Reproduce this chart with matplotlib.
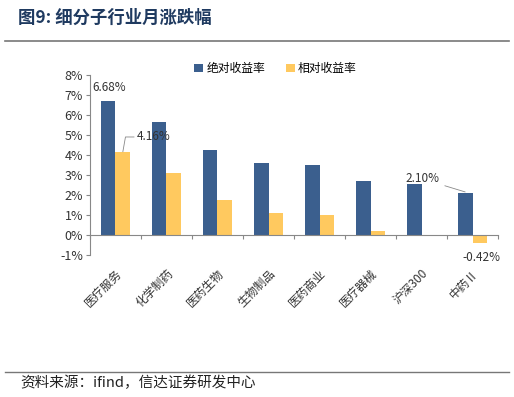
import numpy as np
import matplotlib.pyplot as plt

plt.rcParams['font.family'] = ['Noto Sans CJK SC', 'DejaVu Sans']

categories = ['医疗服务', '化学制药', '医药生物', '生物制品', '医药商业', '医疗器械', '沪深300', '中药Ⅱ']
absolute = [6.68, 5.65, 4.27, 3.60, 3.49, 2.68, 2.53, 2.10]
relative = [4.16, 3.12, 1.75, 1.09, 0.99, 0.17, 0.0, -0.42]

blue = '#3B5F8E'
yellow = '#FFC95F'

fig = plt.figure(figsize=(5.14, 3.97), dpi=100)
ax = fig.add_axes([0.175, 0.358, 0.794, 0.453])

x = np.arange(len(categories))
w = 0.29
ax.bar(x - w / 2, absolute, w, color=blue, label='绝对收益率')
ax.bar(x + w / 2, relative, w, color=yellow, label='相对收益率')

ax.set_xlim(-0.5, len(categories) - 0.5)
ax.set_ylim(-1, 8)
ax.set_yticks(range(-1, 9))
ax.set_yticklabels([f'{v}%' for v in range(-1, 9)], fontsize=9, color='#333333')

ax.spines['top'].set_visible(False)
ax.spines['right'].set_visible(False)
ax.spines['left'].set_color('#888888')
ax.spines['bottom'].set_position(('data', 0))
ax.spines['bottom'].set_color('#888888')
ax.tick_params(axis='y', length=3, color='#888888', pad=2)

ax.set_xticks(np.arange(len(categories) + 1) - 0.5)
ax.set_xticklabels([])
ax.tick_params(axis='x', length=3, color='#888888', direction='out')
for i, c in enumerate(categories):
    ax.text(i, -1.6, c, rotation=45, ha='right', va='top',
            rotation_mode='anchor', fontsize=8.5, color='#333333')

# data labels
ax.text(0 - w / 2 + 0.03, 7.05, '6.68%', ha='center', va='bottom', fontsize=8.5, color='#333333')
ax.annotate('4.16%', xy=(0 + w / 2, 4.16), xytext=(0.42, 4.9),
            fontsize=8.5, color='#333333', va='center', ha='left',
            arrowprops=dict(arrowstyle='-', color='#888888', lw=0.6,
                            connectionstyle='angle,angleA=0,angleB=80,rad=0',
                            shrinkA=0, shrinkB=0))
ax.annotate('2.10%', xy=(7 - w / 2, 2.15), xytext=(6.35, 2.8),
            fontsize=8.5, color='#333333', va='center', ha='right',
            arrowprops=dict(arrowstyle='-', color='#888888', lw=0.6,
                            shrinkA=2, shrinkB=0))
ax.text(7 + w / 2 + 0.03, -0.8, '-0.42%', ha='center', va='top', fontsize=8.5, color='#333333')

ax.legend(loc='upper center', bbox_to_anchor=(0.455, 1.13), ncol=2, frameon=False,
          fontsize=8.5, handlelength=0.7, handleheight=0.7, handletextpad=0.3,
          columnspacing=1.8)

# title, rules and source
fig.text(0.035, 0.955, '图9: 细分子行业月涨跌幅', fontsize=12.5, fontweight='bold',
         color='#1F3A60', va='center')
fig.add_artist(plt.Line2D([0.01, 0.99], [0.897, 0.897], color='#777777', lw=1.2))
fig.add_artist(plt.Line2D([0.01, 0.99], [0.063, 0.063], color='#777777', lw=1.0))
fig.text(0.04, 0.035, '资料来源：ifind，信达证券研发中心', fontsize=10.5, style='italic',
         color='#222222', va='center')

fig.savefig('out.png', dpi=100)
